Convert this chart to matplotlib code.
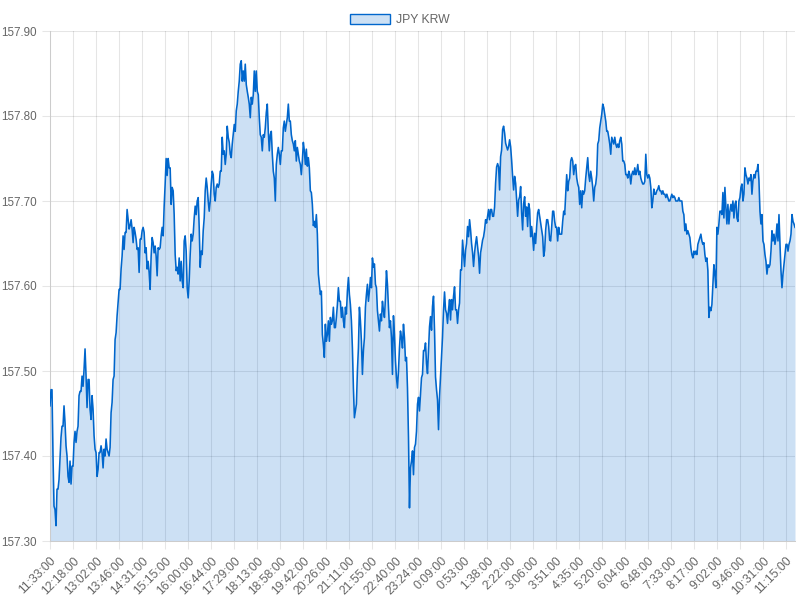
import matplotlib
matplotlib.use("Agg")
import matplotlib.pyplot as plt
from matplotlib.patches import Patch
import numpy as np

plt.rcParams['font.family'] = ['Liberation Sans', 'DejaVu Sans']

series_label = "JPY KRW"
start_time = "11:33"
window_minutes = 1439

# prices, in time order (about one reading per pixel)
prices_1133_1445 = [
    157.459, 157.478, 157.478, 157.400, 157.341, 157.337, 157.318, 157.361, 157.361, 157.372,
    157.396, 157.422, 157.435, 157.435, 157.459, 157.439, 157.412, 157.400, 157.376, 157.369,
    157.394, 157.367, 157.388, 157.388, 157.416, 157.429, 157.416, 157.429, 157.435, 157.471,
    157.476, 157.476, 157.494, 157.482, 157.502, 157.526, 157.494, 157.457, 157.490, 157.490,
    157.455, 157.443, 157.471, 157.455, 157.424, 157.408, 157.404, 157.376, 157.384, 157.404,
    157.404, 157.412, 157.404, 157.386, 157.408, 157.400, 157.420, 157.408, 157.404, 157.400,
    157.410, 157.451, 157.463, 157.490, 157.494, 157.537, 157.545, 157.565, 157.580, 157.596,
    157.596, 157.620, 157.635, 157.659, 157.643, 157.663, 157.663, 157.690, 157.678, 157.667,
    157.671, 157.678, 157.667, 157.651, 157.669, 157.663, 157.655, 157.643, 157.645, 157.616,
    157.655, 157.655, 157.665, 157.669, 157.663, 157.639, 157.645, 157.620, 157.629, 157.616,
    157.596, 157.635, 157.657, 157.651, 157.639, 157.647, 157.635, 157.612, 157.645, 157.643,
    157.645, 157.659, 157.669, 157.659, 157.694, 157.720, 157.750, 157.730, 157.750,
]
prices_1445_1900 = [
    157.739, 157.739, 157.696, 157.716, 157.712, 157.684, 157.637, 157.618, 157.622, 157.614,
    157.633, 157.606, 157.629, 157.606, 157.598, 157.653, 157.659, 157.641, 157.598, 157.586,
    157.606, 157.637, 157.661, 157.653, 157.661, 157.680, 157.694, 157.684, 157.700, 157.704,
    157.669, 157.622, 157.641, 157.637, 157.665, 157.680, 157.712, 157.727, 157.716, 157.700,
    157.688, 157.700, 157.720, 157.735, 157.731, 157.708, 157.700, 157.716, 157.720, 157.716,
    157.720, 157.735, 157.735, 157.775, 157.755, 157.759, 157.743, 157.755, 157.788, 157.775,
    157.769, 157.755, 157.751, 157.767, 157.778, 157.790, 157.782, 157.806, 157.814, 157.829,
    157.841, 157.861, 157.865, 157.841, 157.853, 157.841, 157.861, 157.837, 157.829, 157.822,
    157.814, 157.798, 157.822, 157.814, 157.825, 157.853, 157.829, 157.853, 157.829, 157.825,
    157.798, 157.778, 157.775, 157.759, 157.778, 157.775, 157.786, 157.804, 157.814, 157.782,
    157.759, 157.778, 157.782, 157.755, 157.735, 157.727, 157.700, 157.743, 157.755, 157.763,
    157.755, 157.743, 157.759, 157.759, 157.786, 157.794, 157.782, 157.790, 157.798, 157.814,
    157.794, 157.794, 157.778, 157.771, 157.767, 157.759, 157.771, 157.747, 157.763, 157.755,
    157.747,
]
prices_1900_2300 = [
    157.743, 157.731, 157.747, 157.769, 157.759, 157.743, 157.761, 157.741, 157.751, 157.739,
    157.712, 157.710, 157.696, 157.671, 157.676, 157.669, 157.684, 157.661, 157.614, 157.602,
    157.590, 157.594, 157.543, 157.531, 157.516, 157.555, 157.535, 157.543, 157.559, 157.535,
    157.563, 157.555, 157.559, 157.575, 157.551, 157.551, 157.563, 157.578, 157.598, 157.582,
    157.582, 157.563, 157.575, 157.559, 157.551, 157.575, 157.567, 157.594, 157.610, 157.590,
    157.578, 157.559, 157.527, 157.480, 157.445, 157.453, 157.461, 157.500, 157.527, 157.575,
    157.559, 157.535, 157.496, 157.524, 157.539, 157.575, 157.590, 157.602, 157.582, 157.594,
    157.610, 157.598, 157.633, 157.622, 157.626, 157.602, 157.598, 157.571, 157.559, 157.547,
    157.567, 157.559, 157.582, 157.571, 157.563, 157.586, 157.618, 157.602, 157.575, 157.551,
    157.559, 157.539, 157.496, 157.565, 157.543, 157.512, 157.492, 157.480, 157.500, 157.527,
    157.547, 157.539, 157.527, 157.555, 157.539, 157.512, 157.516, 157.480, 157.422, 157.339,
    157.386, 157.394, 157.406, 157.378, 157.410, 157.414, 157.429, 157.461, 157.469, 157.453,
    157.473, 157.492, 157.496, 157.524, 157.524,
]
prices_2300_0300 = [
    157.533, 157.509, 157.497, 157.525, 157.552, 157.564, 157.548, 157.576, 157.588, 157.548,
    157.493, 157.478, 157.466, 157.431, 157.470, 157.493, 157.517, 157.540, 157.572, 157.593,
    157.572, 157.568, 157.556, 157.572, 157.584, 157.560, 157.584, 157.572, 157.588, 157.599,
    157.572, 157.572, 157.556, 157.572, 157.580, 157.619, 157.619, 157.654, 157.639, 157.623,
    157.642, 157.650, 157.670, 157.658, 157.678, 157.666, 157.650, 157.639, 157.623, 157.639,
    157.650, 157.658, 157.646, 157.635, 157.615, 157.639, 157.646, 157.654, 157.658, 157.666,
    157.678, 157.674, 157.682, 157.690, 157.678, 157.690, 157.690, 157.682, 157.682, 157.693,
    157.721, 157.740, 157.744, 157.740, 157.713, 157.752, 157.760, 157.784, 157.788, 157.780,
    157.768, 157.764, 157.760, 157.764, 157.772, 157.764, 157.748, 157.729, 157.713, 157.729,
    157.721, 157.701, 157.682, 157.701, 157.705, 157.717, 157.686, 157.666, 157.697, 157.705,
    157.682, 157.693, 157.670, 157.697, 157.690, 157.658, 157.670, 157.658, 157.642, 157.662,
    157.650, 157.670, 157.686, 157.690, 157.682, 157.674, 157.666, 157.658, 157.635, 157.642,
    157.666, 157.678, 157.678, 157.670, 157.654,
]
prices_0300_0700 = [
    157.653, 157.669, 157.688, 157.688, 157.676, 157.669, 157.669, 157.653, 157.669, 157.661,
    157.661, 157.661, 157.676, 157.688, 157.684, 157.708, 157.731, 157.712, 157.723, 157.727,
    157.747, 157.751, 157.747, 157.731, 157.741, 157.743, 157.727, 157.720, 157.716, 157.696,
    157.712, 157.692, 157.712, 157.708, 157.712, 157.727, 157.739, 157.751, 157.731, 157.723,
    157.735, 157.727, 157.716, 157.700, 157.716, 157.720, 157.731, 157.767, 157.771, 157.786,
    157.794, 157.802, 157.814, 157.810, 157.802, 157.794, 157.782, 157.782, 157.775, 157.767,
    157.755, 157.775, 157.771, 157.767, 157.775, 157.767, 157.763, 157.767, 157.763, 157.771,
    157.775, 157.767, 157.747, 157.747, 157.743, 157.731, 157.731, 157.727, 157.735, 157.731,
    157.720, 157.731, 157.735, 157.731, 157.739, 157.731, 157.735, 157.743, 157.731, 157.735,
    157.727, 157.723, 157.720, 157.720, 157.723, 157.755, 157.731, 157.727, 157.731, 157.727,
    157.716, 157.692, 157.700, 157.714, 157.708, 157.708, 157.712, 157.714, 157.718, 157.712,
    157.712, 157.708, 157.712, 157.708, 157.708, 157.704, 157.708, 157.704, 157.700, 157.700,
    157.704, 157.708, 157.704, 157.706, 157.704,
]
prices_0700_1133 = [
    157.700, 157.700, 157.700, 157.704, 157.700, 157.700, 157.700, 157.688, 157.684, 157.665,
    157.673, 157.661, 157.665, 157.661, 157.657, 157.645, 157.637, 157.633, 157.641, 157.637,
    157.641, 157.637, 157.649, 157.653, 157.657, 157.661, 157.653, 157.649, 157.651, 157.637,
    157.629, 157.633, 157.618, 157.563, 157.575, 157.571, 157.578, 157.602, 157.625, 157.614,
    157.598, 157.669, 157.661, 157.673, 157.688, 157.688, 157.684, 157.710, 157.680, 157.716,
    157.692, 157.673, 157.696, 157.673, 157.688, 157.696, 157.688, 157.700, 157.680, 157.696,
    157.700, 157.680, 157.676, 157.700, 157.704, 157.716, 157.720, 157.700, 157.708, 157.739,
    157.731, 157.727, 157.720, 157.727, 157.724, 157.731, 157.708, 157.724, 157.731, 157.727,
    157.735, 157.735, 157.743, 157.724, 157.688, 157.673, 157.684, 157.653, 157.649, 157.637,
    157.629, 157.614, 157.625, 157.622, 157.625, 157.641, 157.665, 157.653, 157.661, 157.649,
    157.657, 157.673, 157.653, 157.684, 157.649, 157.618, 157.598, 157.614, 157.625, 157.637,
    157.649, 157.649, 157.641, 157.649, 157.653, 157.661, 157.684, 157.676, 157.673, 157.669,
]

tick_labels = [
    "11:33:00", "12:18:00", "13:02:00", "13:46:00", "14:31:00", "15:15:00", "16:00:00",
    "16:44:00", "17:29:00", "18:13:00", "18:58:00", "19:42:00", "20:26:00", "21:11:00",
    "21:55:00", "22:40:00", "23:24:00", "0:09:00", "0:53:00", "1:38:00", "2:22:00",
    "3:06:00", "3:51:00", "4:35:00", "5:20:00", "6:04:00", "6:48:00", "7:33:00",
    "8:17:00", "9:02:00", "9:46:00", "10:31:00", "11:15:00",
]
y_ticks = [157.30, 157.40, 157.50, 157.60, 157.70, 157.80, 157.90]

prices = np.array(prices_1133_1445 + prices_1445_1900 + prices_1900_2300
                  + prices_2300_0300 + prices_0300_0700 + prices_0700_1133)
x = np.linspace(0, window_minutes, len(prices))


def minutes_from_start(label):
    h0, m0 = map(int, start_time.split(":"))
    h, m = map(int, label.split(":")[:2])
    return ((h * 60 + m) - (h0 * 60 + m0)) % 1440


tick_pos = [minutes_from_start(t) for t in tick_labels]

line_color = (0 / 255, 102 / 255, 204 / 255)
fill_color = (0 / 255, 102 / 255, 204 / 255, 0.2)
text_color = "#666666"

fig = plt.figure(figsize=(8, 6), dpi=100)
ax = fig.add_axes([50 / 800, 1 - 541 / 600, 745 / 800, 510 / 600])

ax.fill_between(x, prices, y_ticks[0], color=fill_color, linewidth=0, zorder=2)
ax.plot(x, prices, color=line_color, linewidth=1.15, zorder=3)

ax.set_xlim(0, window_minutes)
ax.set_ylim(y_ticks[0], y_ticks[-1])
ax.set_xticks(tick_pos)
ax.set_xticklabels(tick_labels, rotation=45, ha="right", va="top",
                   rotation_mode="anchor", fontsize=8.8, color=text_color)
ax.set_yticks(y_ticks)
ax.set_yticklabels([f"{v:.2f}" for v in y_ticks], fontsize=8.4, color=text_color)

ax.set_axisbelow(True)
ax.grid(True, color="black", alpha=0.1, linewidth=0.75)
ax.tick_params(axis="both", length=6, width=0.75, color="#e6e6e6")
ax.tick_params(axis="y", pad=3.5, length=6)
ax.tick_params(axis="x", pad=4)
for side in ["top", "right"]:
    ax.spines[side].set_visible(False)
for side in ["left", "bottom"]:
    ax.spines[side].set_color("#cccccc")
    ax.spines[side].set_linewidth(0.75)

handle = Patch(facecolor=fill_color, edgecolor=line_color, linewidth=1.0)
fig.legend([handle], [series_label], loc="upper center", bbox_to_anchor=(0.5, 0.995),
           frameon=False, fontsize=8.8, handlelength=3.3, handleheight=0.9,
           handletextpad=0.5, labelcolor=text_color)

fig.savefig("out.png", dpi=100)
